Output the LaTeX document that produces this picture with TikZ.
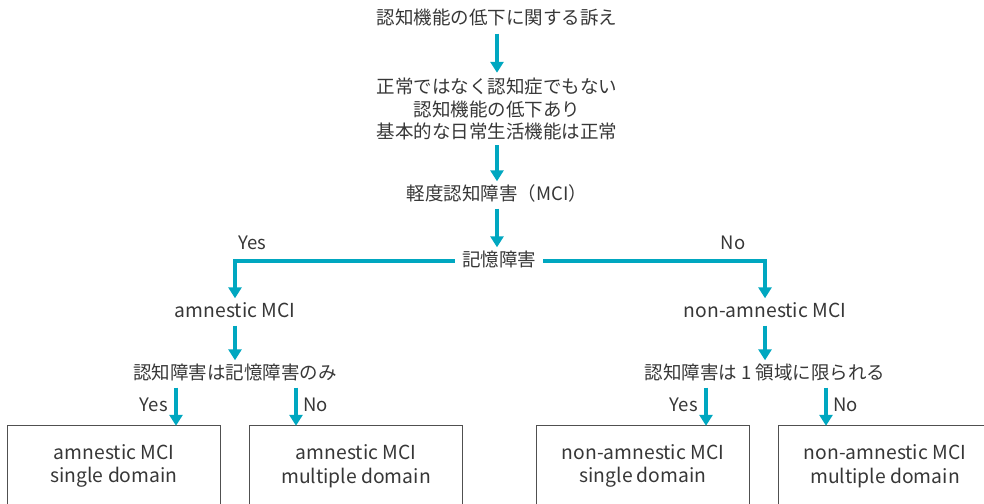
\documentclass[tikz,border=0pt]{standalone}
\usepackage{fontspec}
\setmainfont{Noto Sans CJK JP}
\usetikzlibrary{arrows.meta}
\definecolor{teal1}{RGB}{0,167,192}
\definecolor{txt}{RGB}{55,55,55}
\definecolor{boxc}{RGB}{80,80,80}
\begin{document}
\begin{tikzpicture}[x=1pt,y=-1pt,
  every node/.style={text=txt,font=\fontsize{18.5}{22.5}\selectfont},
  lbl/.style={inner xsep=2pt,inner ysep=5pt,text height=13.5pt,text depth=3.5pt},
  multi/.style={inner xsep=2pt,inner ysep=5pt,align=center},
  yn/.style={inner sep=1pt},
  leaf/.style={minimum width=212pt,minimum height=80pt,align=center,inner sep=0pt},
  arr/.style={draw=teal1,line width=3.4pt,-{Triangle[width=13pt,length=11pt]}},
  brd/.style={draw=boxc,line width=1pt}]
\useasboundingbox (0,0) rectangle (984,503);
% main chain
\node[lbl] (t1) at (497,20) {認知機能の低下に関する訴え};
\node[multi] (t2) at (497,109) {正常ではなく認知症でもない\\認知機能の低下あり\\基本的な日常生活機能は正常};
\node[lbl] (t3) at (497,195) {軽度認知障害（MCI）};
\node[lbl,inner xsep=7pt] (t4) at (499,261) {記憶障害};
\draw[arr] (t1.south) -- (t2.north);
\draw[arr] (t2.south) -- (t3.north);
\draw[arr] (t3.south) -- (t3.south |- t4.north);
% first branch
\node[lbl] (a1) at (235,312) {\fontsize{19.3}{23}\selectfont amnestic MCI};
\node[lbl] (na1) at (765,312) {\fontsize{19.3}{23}\selectfont non-amnestic MCI};
\node[yn] (y1) at (252,243) {Yes};
\node[yn] (n1) at (733,243) {No};
\draw[arr] (t4.west) -| (a1.north);
\draw[arr] (t4.east) -| (na1.north);
% questions
\node[lbl] (q1) at (235,374) {認知障害は記憶障害のみ};
\node[lbl] (q2) at (765,374) {認知障害は 1 領域に限られる};
\draw[arr] (a1.south) -- (q1.north);
\draw[arr] (na1.south) -- (q2.north);
% leaves
\node[leaf,font=\fontsize{19.3}{23.5}\selectfont] (b1) at (114,466) {amnestic MCI\\single domain};
\node[leaf,font=\fontsize{19.3}{23.5}\selectfont] (b2) at (356,466) {amnestic MCI\\multiple domain};
\node[leaf,font=\fontsize{19.3}{23.5}\selectfont] (b3) at (643,466) {non-amnestic MCI\\single domain};
\node[leaf,font=\fontsize{19.3}{23.5}\selectfont] (b4) at (885,466) {non-amnestic MCI\\multiple domain};
\draw[brd] (b1.south west) |- (b1.north east) -- (b1.south east);
\draw[brd] (b2.south west) |- (b2.north east) -- (b2.south east);
\draw[brd] (b3.south west) |- (b3.north east) -- (b3.south east);
\draw[brd] (b4.south west) |- (b4.north east) -- (b4.south east);
% second-level arrows
\coordinate (c1) at (176,0);
\coordinate (c2) at (296,0);
\coordinate (c3) at (706,0);
\coordinate (c4) at (826,0);
\draw[arr] (q1.south -| c1) -- (c1 |- b1.north);
\draw[arr] (q1.south -| c2) -- (c2 |- b2.north);
\draw[arr] (q2.south -| c3) -- (c3 |- b3.north);
\draw[arr] (q2.south -| c4) -- (c4 |- b4.north);
\node[yn,anchor=east] (y2) at (169,405) {Yes};
\node[yn,anchor=west] (n2) at (302,405) {No};
\node[yn,anchor=east] (y3) at (699,405) {Yes};
\node[yn,anchor=west] (n3) at (832,405) {No};
\end{tikzpicture}
\end{document}
